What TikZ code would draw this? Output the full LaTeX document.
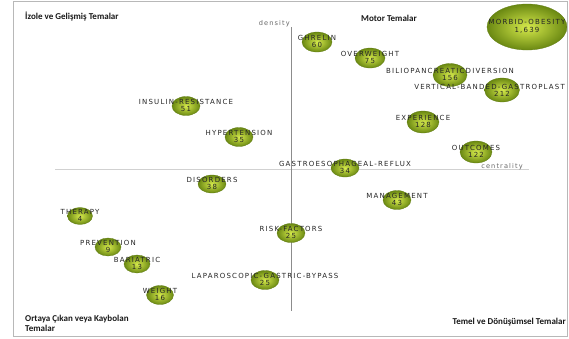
\documentclass[tikz,border=0pt]{standalone}
\usepackage{fontspec}
\newfontfamily\lblfont[LetterSpace=17]{DejaVu Sans}
\newfontfamily\qfont{Carlito}
\usetikzlibrary{shapes.geometric}
\definecolor{bubin}{HTML}{D6EA4C}
\definecolor{bubout}{HTML}{6A8812}
\definecolor{bubedge}{HTML}{627E14}
\definecolor{txtc}{HTML}{262626}
\tikzset{
  frame/.style={draw=black!28, line width=0.8pt},
  vaxis/.style={draw=black!45, line width=1pt},
  haxis/.style={draw=black!18, line width=1pt},
  bub/.style={ellipse, inner sep=0pt, shade, inner color=bubin, outer color=bubout, draw=bubedge, line width=0.3pt},
  blabel/.style={font=\lblfont\fontsize{7}{7.2}\selectfont, text=txtc, align=center, inner sep=0pt},
  axlabel/.style={font=\lblfont\fontsize{6.6}{7}\selectfont, text=black!60, inner sep=0pt},
  quadlabel/.style={font=\qfont\bfseries\fontsize{9}{10}\selectfont, text=black!90, inner sep=0pt, align=left}
}
\newcommand\bubble[7]{%
  \node[bub, minimum width=#4pt, minimum height=#5pt] (#1) at (#2,#3) {};
  \node[blabel] (#1-t) at ([yshift=0.6pt]#1.center) {#6\\#7};
}
\begin{document}
\begin{tikzpicture}[x=1pt,y=-1pt]
\useasboundingbox (0,0) rectangle (569,338);
\fill[white] (0,0) rectangle (569,338);
\begin{scope}
\clip (13,1) rectangle (567,336);
\coordinate (vtop) at (291,27);
\coordinate (vbot) at (291,311);
\coordinate (hleft) at (55,169);
\coordinate (hright) at (529,169);
\draw[haxis] (hleft) -- (hright);
\draw[vaxis] (vtop) -- (vbot);
\node[axlabel, anchor=east] (dens) at (290,24) {density};
\node[axlabel] (cent) at (502,166.5) {centrality};

\bubble{mo}{527}{27}{80}{46}{MORBID-OBESITY}{1,639}
\bubble{gh}{317}{42}{30}{20}{GHRELIN}{60}
\bubble{ow}{370}{58}{30}{20}{OVERWEIGHT}{75}
\bubble{bd}{450}{75}{34}{23}{BILIOPANCREATICDIVERSION}{156}
\node[bub, minimum width=35pt, minimum height=24pt] (vb) at (502,90) {};
\node[blabel, anchor=east] (vb-t) at (565,86.8) {VERTICAL-BANDED-GASTROPLAST};
\node[blabel] (vb-n) at (502,93.6) {212};
\bubble{ex}{423}{122}{32}{22}{EXPERIENCE}{128}
\bubble{oc}{476}{152}{32}{22}{OUTCOMES}{122}
\bubble{gr}{345}{168}{28}{18}{GASTROESOPHAGEAL-REFLUX}{34}
\bubble{mg}{397}{200}{28}{19}{MANAGEMENT}{43}
\bubble{ir}{186}{106}{28}{19}{INSULIN-RESISTANCE}{51}
\bubble{ht}{239}{137}{28}{19}{HYPERTENSION}{35}
\bubble{ds}{212}{184}{28}{18}{DISORDERS}{38}
\bubble{th}{80}{216}{25}{17}{THERAPY}{4}
\bubble{pv}{108}{247}{26}{18}{PREVENTION}{9}
\bubble{ba}{137}{264}{26}{18}{BARIATRIC}{13}
\bubble{wt}{160}{295}{27}{19}{WEIGHT}{16}
\bubble{rf}{291}{233}{28}{19}{RISK-FACTORS}{25}
\bubble{lg}{265}{280}{28}{19}{LAPAROSCOPIC-GASTRIC-BYPASS}{25}
\end{scope}
\draw[frame] (13,1) rectangle (567,336);
\node[quadlabel, anchor=west] (q1) at (25,16) {İzole ve Gelişmiş Temalar};
\node[quadlabel, anchor=west] (q2) at (361,18) {Motor Temalar};
\node[quadlabel, anchor=east] (q4) at (566,322) {Temel ve Dönüşümsel Temalar};
\node[quadlabel, anchor=north west] (q3) at (25,315) {Ortaya Çıkan veya Kaybolan\\Temalar};
\end{tikzpicture}
\end{document}
